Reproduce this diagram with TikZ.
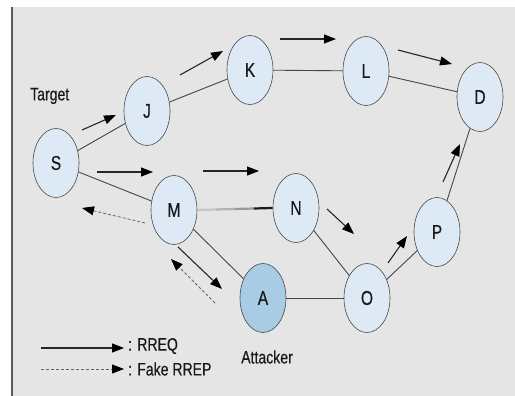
\documentclass[tikz,border=0pt]{standalone}
\usepackage{fontspec}
\setmainfont{Liberation Sans}[FakeStretch=0.78,FakeBold=0.4]
\usetikzlibrary{shapes.geometric,arrows.meta,calc}
\definecolor{bgc}{RGB}{229,229,229}
\definecolor{nodec}{RGB}{221,234,246}
\definecolor{attc}{RGB}{168,204,228}
\definecolor{edgec}{RGB}{70,70,70}
\tikzset{
  nd/.style={ellipse, draw=edgec, line width=0.6pt, fill=nodec, minimum width=46pt, minimum height=69pt, inner sep=0pt, text=black!90, font=\fontsize{20}{20}\selectfont},
  lnk/.style={draw=edgec, line width=0.9pt},
  rreq/.style={line width=1.1pt, black!85, -{Triangle[length=12pt,width=9pt,fill=black,color=black]}},
  fake/.style={line width=0.8pt, gray!80!black, dash pattern=on 3pt off 2pt, -{Triangle[length=12pt,width=9pt,fill=black,color=black]}},
  lbl/.style={font=\fontsize{18}{18}\selectfont, inner sep=0pt, text=black!90}
}
\begin{document}
\begin{tikzpicture}[x=1pt,y=-1pt]
\useasboundingbox (0,0) rectangle (515,396);
\fill[white] (0,0) rectangle (515,396);
\fill[bgc] (12,7) rectangle (515,396);
\draw[gray!70!black, line width=2pt] (12,7) -- (12,396);

% nodes
\node[nd] (S) at (56,163) {S};
\node[nd] (J) at (147,111) {J};
\node[nd] (K) at (250,70) {K};
\node[nd] (L) at (366,71) {L};
\node[nd] (D) at (480,97) {D};
\node[nd] (M) at (174,210) {M};
\node[nd] (N) at (296,208) {N};
\node[nd, fill=attc] (A) at (263,298) {A};
\node[nd] (O) at (367,298) {O};
\node[nd] (P) at (437,232) {P};

% links
\draw[lnk] (S) -- (J);
\draw[lnk] (J) -- (K);
\draw[lnk] (K) -- (L);
\draw[lnk] (L) -- (D);
\draw[lnk] (S) -- (M);
\draw[lnk] (M) -- (A);
\draw[lnk] (N) -- (O);
\draw[lnk] (A) -- (O);
\draw[lnk] (O) -- (P);
\draw[lnk] (P) -- (D);
% M-N graded link
\coordinate (mn0) at (M.east);
\coordinate (mn4) at (N.west);
\coordinate (mn1) at ($(mn0)!0.25!(mn4)$);
\coordinate (mn2) at ($(mn0)!0.5!(mn4)$);
\coordinate (mn3) at ($(mn0)!0.75!(mn4)$);
\draw[line width=2.2pt, gray!45] (mn0) -- (mn1);
\draw[line width=2.2pt, gray!60] (mn1) -- (mn2);
\draw[line width=2.2pt, gray!80] (mn2) -- (mn3);
\draw[line width=2.2pt, black!90] (mn3) -- (mn4);

% RREQ arrows
\coordinate (a1s) at (82,130); \coordinate (a1e) at (116,115);
\coordinate (a2s) at (180,75); \coordinate (a2e) at (223,51);
\coordinate (a3s) at (280,39); \coordinate (a3e) at (336,39);
\coordinate (a4s) at (398,50); \coordinate (a4e) at (452,64);
\coordinate (a5s) at (97,172); \coordinate (a5e) at (153,172);
\coordinate (a6s) at (203,171); \coordinate (a6e) at (259,171);
\coordinate (a7s) at (327,209); \coordinate (a7e) at (354,234);
\coordinate (a8s) at (388,263); \coordinate (a8e) at (407,236);
\coordinate (a9s) at (443,182); \coordinate (a9e) at (460,144);
\coordinate (a10s) at (178,247); \coordinate (a10e) at (222,289);
\draw[rreq] (a1s) -- (a1e);
\draw[rreq] (a2s) -- (a2e);
\draw[rreq] (a3s) -- (a3e);
\draw[rreq] (a4s) -- (a4e);
\draw[rreq] (a5s) -- (a5e);
\draw[rreq] (a6s) -- (a6e);
\draw[rreq] (a7s) -- (a7e);
\draw[rreq] (a8s) -- (a8e);
\draw[rreq] (a9s) -- (a9e);
\draw[rreq] (a10s) -- (a10e);

% Fake RREP arrows
\coordinate (f1s) at (145,223); \coordinate (f1e) at (82,208);
\coordinate (f2s) at (215,303); \coordinate (f2e) at (171,259);
\draw[fake] (f1s) -- (f1e);
\draw[fake] (f2s) -- (f2e);

% labels
\node[lbl, anchor=west] (tgt) at (30,96) {Target};
\node[lbl] (att) at (267,357) {Attacker};

% legend
\coordinate (l1s) at (41,348); \coordinate (l1e) at (124,348);
\coordinate (l2s) at (41,369); \coordinate (l2e) at (124,369);
\draw[rreq] (l1s) -- (l1e);
\draw[fake] (l2s) -- (l2e);
\node[lbl, anchor=west] (lg1) at (128,346) {: RREQ};
\node[lbl, anchor=west] (lg2) at (128,369) {: Fake RREP};
\end{tikzpicture}
\end{document}
